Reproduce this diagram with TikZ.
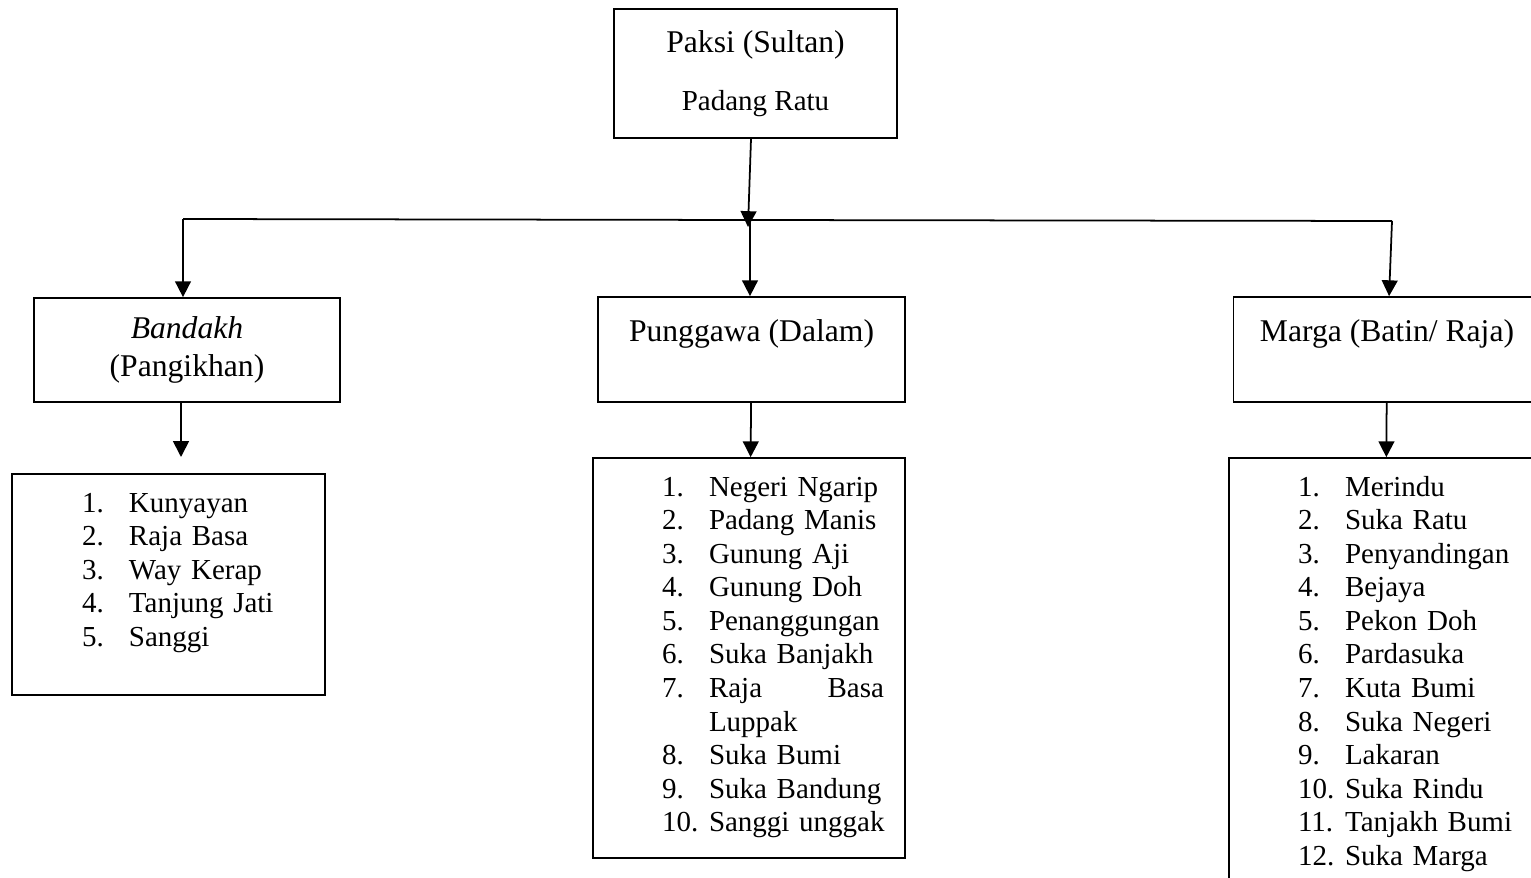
\documentclass[tikz,border=0pt]{standalone}
\usepackage{fontspec}
\setmainfont{Liberation Serif}
\usetikzlibrary{arrows.meta,positioning}

\newcommand{\hdfont}{\fontsize{18}{22}\selectfont}
\newcommand{\lsfont}{\fontsize{16.5}{19.1}\selectfont}
\newcommand{\itm}[2]{\makebox[0.94cm][l]{#1}#2}

\begin{document}
\begin{tikzpicture}[x=0.02cm,y=-0.02cm,line width=1pt,
	box/.style={draw,align=center,inner sep=0pt,font=\hdfont},
	frame/.style={draw,inner sep=0pt},
	items/.style={anchor=base west,inner sep=0pt,text width=5cm,align=left,font=\lsfont},
	arr/.style={-{Triangle[width=9pt,length=9pt]}}]
	\useasboundingbox (0,0) rectangle (1531,878);
	% top
	\node[box,minimum width=5.66cm,minimum height=2.58cm] (paksi) at (755.5,73.5)
		{Paksi (Sultan)\\[11pt]{\lsfont Padang Ratu}};
	% second level
	\node[box,minimum width=6.12cm,minimum height=2.08cm] (bandakh) at (187,350)
		{\textit{Bandakh}\\(Pangikhan)};
	\node[box,minimum width=6.14cm,minimum height=2.1cm] (punggawa) at (751.5,349.5)
		{Punggawa (Dalam)\\\mbox{}};
	\node[box,minimum width=6.14cm,minimum height=2.1cm] (marga) at (1387,349.5)
		{Marga (Batin/ Raja)\\\mbox{}};
	% lists
	\node[frame,minimum width=6.26cm,minimum height=4.42cm] (llist) at (168.5,584.5) {};
	\node[frame,minimum width=6.24cm,minimum height=8cm] (mlist) at (749,658) {};
	\node[frame,minimum width=6.24cm,minimum height=8.8cm] (rlist) at (1385,678) {};
	\node[items] (ltext) at ([shift={(70,39)}]llist.north west)
		{\itm{1.}{Kunyayan}\\\itm{2.}{Raja Basa}\\\itm{3.}{Way Kerap}\\
		 \itm{4.}{Tanjung Jati}\\\itm{5.}{Sanggi}};
	\node[items] (mtext) at ([shift={(69,39)}]mlist.north west)
		{\itm{1.}{Negeri Ngarip}\\\itm{2.}{Padang Manis}\\\itm{3.}{Gunung Aji}\\
		 \itm{4.}{Gunung Doh}\\\itm{5.}{Penanggungan}\\\itm{6.}{Suka Banjakh}\\
		 \itm{7.}{\makebox[3.5cm][s]{Raja\hfill Basa}}\\\itm{}{Luppak}\\
		 \itm{8.}{Suka Bumi}\\\itm{9.}{Suka Bandung}\\\itm{10.}{Sanggi unggak}};
	\node[items] (rtext) at ([shift={(69,39)}]rlist.north west)
		{\itm{1.}{Merindu}\\\itm{2.}{Suka Ratu}\\\itm{3.}{Penyandingan}\\
		 \itm{4.}{Bejaya}\\\itm{5.}{Pekon Doh}\\\itm{6.}{Pardasuka}\\
		 \itm{7.}{Kuta Bumi}\\\itm{8.}{Suka Negeri}\\\itm{9.}{Lakaran}\\
		 \itm{10.}{Suka Rindu}\\\itm{11.}{Tanjakh Bumi}\\\itm{12.}{Suka Marga}};
	% connectors
	\coordinate (hl) at (183,219);
	\coordinate (hm) at (750,220);
	\coordinate (hr) at (1392,221);
	\coordinate (pk) at (748,227);
	\coordinate (lt) at (181,457);
	\draw (hl) -- (hm) -- (hr);
	\draw[arr] (paksi.south -| 751,0) -- (pk);
	\draw[arr] (hl) -- (hl |- bandakh.north);
	\draw[arr] (hm) -- (hm |- punggawa.north);
	\draw[arr] (hr) -- (marga);
	\draw[arr] (bandakh.south -| lt) -- (lt);
	\draw[arr] (punggawa) -- (mlist);
	\draw[arr] (marga) -- (rlist);
\end{tikzpicture}
\end{document}
